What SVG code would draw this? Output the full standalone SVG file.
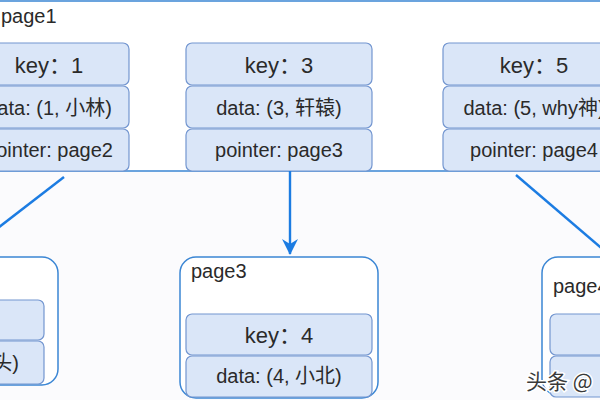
<svg xmlns="http://www.w3.org/2000/svg" width="600" height="400" viewBox="0 0 600 400">
<defs>
<style>
.page{fill:#ffffff;stroke:#3b86d4;stroke-width:1.5}
.cell{fill:#dae6f8;stroke:#7396d0;stroke-width:1.2}
.t{font-family:"Liberation Sans","Noto Sans CJK SC",sans-serif;font-size:20px;fill:#2a2a2a;text-anchor:middle}
.k{font-size:22px}
.lbl{font-family:"Liberation Sans","Noto Sans CJK SC",sans-serif;font-size:20px;fill:#2a2a2a}
.conn{stroke:#1c7ce2;stroke-width:2.4;fill:none}
.wm{font-family:"Noto Sans CJK SC",sans-serif;font-size:21px;fill:#3a3a3a;stroke:#fff;stroke-width:3;paint-order:stroke}
</style>
<marker id="arr" viewBox="0 0 16 16" refX="15" refY="8" markerWidth="16" markerHeight="16" markerUnits="userSpaceOnUse" orient="auto">
<path d="M0,0 L16,8 L0,16 L5,8 Z" fill="#1c7ce2"/>
</marker>
</defs>
<rect width="600" height="400" fill="#fbfbfd"/>

<g id="page1">
<rect class="page" x="-20" y="1" width="640" height="170" rx="12"/>
<text class="lbl" x="1" y="23">page1</text>
</g>

<g id="entry1">
<rect class="cell" x="-40" y="43" width="169" height="42" rx="6"/>
<rect class="cell" x="-40" y="86" width="169" height="42" rx="6"/>
<rect class="cell" x="-40" y="129" width="169" height="42" rx="6"/>
<text class="t k" x="49" y="73">key：1</text>
<text class="t" x="49" y="115">data: (1, 小林)</text>
<text class="t" x="49" y="157">pointer: page2</text>
</g>

<g id="entry3">
<rect class="cell" x="186" y="43" width="186" height="42" rx="6"/>
<rect class="cell" x="186" y="86" width="186" height="42" rx="6"/>
<rect class="cell" x="186" y="129" width="186" height="42" rx="6"/>
<text class="t k" x="279" y="73">key：3</text>
<text class="t" x="279" y="115">data: (3, 轩辕)</text>
<text class="t" x="279" y="157">pointer: page3</text>
</g>

<g id="entry5">
<rect class="cell" x="443" y="43" width="186" height="42" rx="6"/>
<rect class="cell" x="443" y="86" width="186" height="42" rx="6"/>
<rect class="cell" x="443" y="129" width="186" height="42" rx="6"/>
<text class="t k" x="534" y="73">key：5</text>
<text class="t" x="534" y="115">data: (5, why神)</text>
<text class="t" x="534" y="157">pointer: page4</text>
</g>

<g id="page2">
<rect class="page" x="-140" y="257" width="198" height="128" rx="16"/>
<rect class="cell" x="-142" y="300" width="186" height="40" rx="6"/>
<rect class="cell" x="-142" y="341" width="186" height="43" rx="6"/>
<text class="t" x="19" y="370" style="text-anchor:end">头)</text>
</g>

<g id="page3">
<rect class="page" x="180" y="257" width="198" height="141" rx="16"/>
<text class="lbl" x="191" y="278">page3</text>
<rect class="cell" x="186" y="314" width="186" height="41" rx="6"/>
<rect class="cell" x="186" y="356" width="186" height="41" rx="6"/>
<text class="t k" x="279" y="343">key：4</text>
<text class="t" x="279" y="383">data: (4, 小北)</text>
</g>

<g id="page4">
<rect class="page" x="542" y="257" width="198" height="138" rx="16"/>
<text class="lbl" x="553" y="293">page4</text>
<rect class="cell" x="550" y="314" width="186" height="41" rx="6"/>
<rect class="cell" x="550" y="356" width="186" height="41" rx="6"/>
</g>

<g id="connectors">
<line class="conn" x1="64" y1="177" x2="-6" y2="231"/>
<line class="conn" x1="290" y1="171" x2="290" y2="254" marker-end="url(#arr)"/>
<line class="conn" x1="516" y1="175" x2="606" y2="252"/>
</g>

<text class="wm" x="526" y="389">头条 @</text>
</svg>
